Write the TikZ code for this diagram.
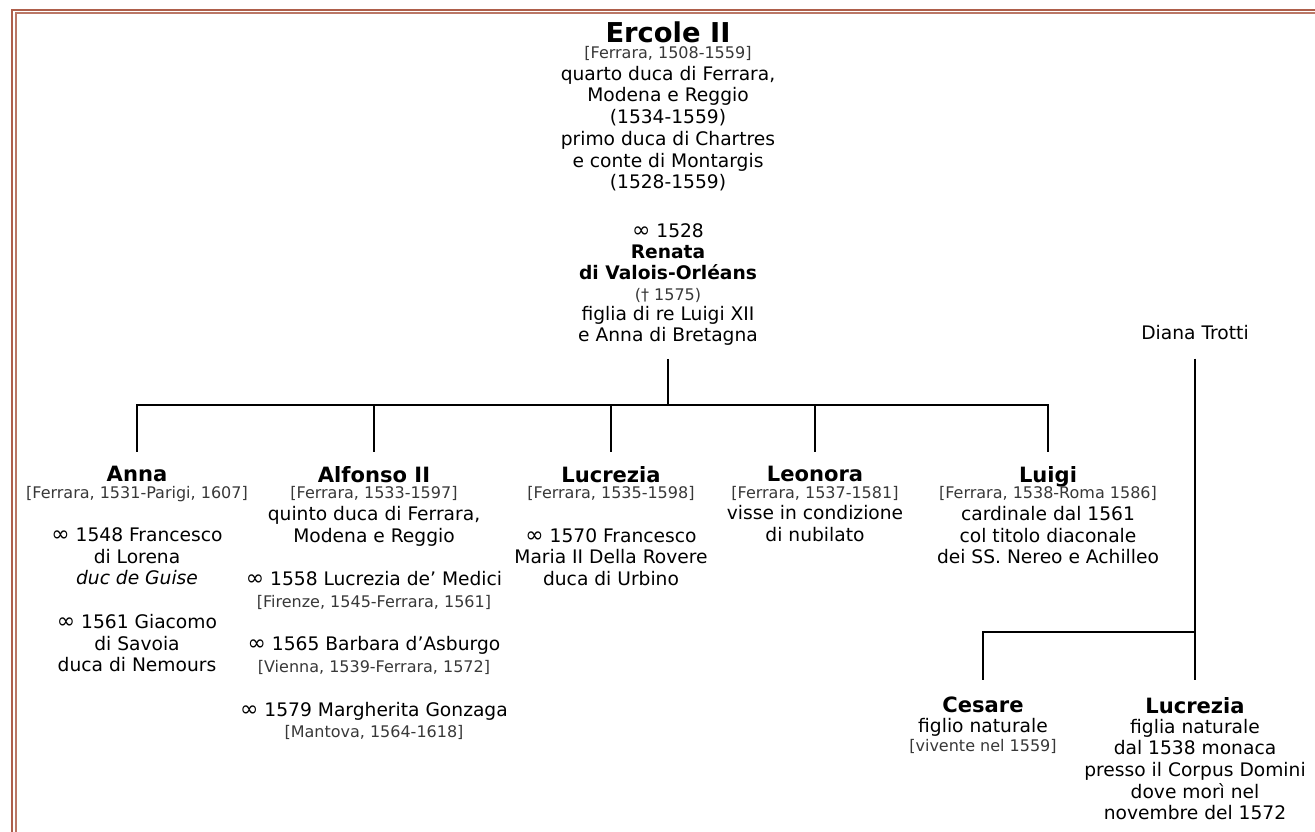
\documentclass[tikz,border=0pt]{standalone}
\usepackage{fontspec}
\setmainfont{DejaVu Sans}
\definecolor{framered}{HTML}{AE5F4B}
\newcommand\pname[1]{{\fontsize{15.8}{0}\selectfont\bfseries #1}}
\newcommand\datetxt[1]{{\fontsize{12}{0}\selectfont\color{black!78}#1}}
\newcommand\marr{{\fontsize{16.5}{0}\selectfont ∞}}
\begin{document}
\begin{tikzpicture}[x=0.75pt, y=-0.75pt,
    person/.style={anchor=north, align=center, inner sep=0pt, text=black,
      font=\fontsize{14}{16.3}\selectfont},
    line/.style={line width=2pt}]
  \useasboundingbox (0,0) rectangle (1315,832);
  % frame
  \draw[framered, line width=1.5pt] (12,832) |- (1315,9.8);
  \draw[framered!85, line width=1.5pt] (15.6,832) |- (1315,13.3);

  % parents
  \node[person] (ercole) at (668,21) {{\fontsize{20.5}{0}\selectfont\bfseries Ercole II}\\[-4pt]
    \datetxt{[Ferrara, 1508-1559]}\\
    quarto duca di Ferrara,\\ Modena e Reggio\\ (1534-1559)\\
    primo duca di Chartres\\ e conte di Montargis\\ (1528-1559)};
  \node[person, font=\fontsize{14}{15.6}\selectfont] (renata) at (668,223.5) {\marr{} 1528\\
    \textbf{Renata}\\ \textbf{di Valois-Orléans}\\ \datetxt{(† 1575)}\\
    figlia di re Luigi XII\\ e Anna di Bretagna};
  \node[person] (diana) at (1195,325) {Diana Trotti};

  % children
  \node[person] (anna) at (137,466) {\pname{Anna}\\[-4pt]
    \datetxt{[Ferrara, 1531-Parigi, 1607]}\\[16.3pt]
    \marr{} 1548 Francesco\\ di Lorena\\ \textit{duc de Guise}\\[16.3pt]
    \marr{} 1561 Giacomo\\ di Savoia\\ duca di Nemours};
  \node[person] (alfonso) at (374,466) {\pname{Alfonso II}\\[-4pt]
    \datetxt{[Ferrara, 1533-1597]}\\
    quinto duca di Ferrara,\\ Modena e Reggio\\[16.3pt]
    \marr{} 1558 Lucrezia de’ Medici\\ \datetxt{[Firenze, 1545-Ferrara, 1561]}\\[16.3pt]
    \marr{} 1565 Barbara d’Asburgo\\ \datetxt{[Vienna, 1539-Ferrara, 1572]}\\[16.3pt]
    \marr{} 1579 Margherita Gonzaga\\ \datetxt{[Mantova, 1564-1618]}};
  \node[person] (lucrezia) at (611,466) {\pname{Lucrezia}\\[-4pt]
    \datetxt{[Ferrara, 1535-1598]}\\[16.3pt]
    \marr{} 1570 Francesco\\ Maria II Della Rovere\\ duca di Urbino};
  \node[person] (leonora) at (815,466) {\pname{Leonora}\\[-4pt]
    \datetxt{[Ferrara, 1537-1581]}\\
    visse in condizione\\ di nubilato};
  \node[person] (luigi) at (1048,466) {\pname{Luigi}\\[-4pt]
    \datetxt{[Ferrara, 1538-Roma 1586]}\\
    cardinale dal 1561\\ col titolo diaconale\\ dei SS. Nereo e Achilleo};
  \node[person] (cesare) at (983,697) {\pname{Cesare}\\[-1.5pt]
    figlio naturale\\[-2pt] \datetxt{[vivente nel 1559]}};
  \node[person] (lucrezian) at (1195,697) {\pname{Lucrezia}\\[-1.5pt]
    figlia naturale\\ dal 1538 monaca\\ presso il Corpus Domini\\
    dove morì nel\\ novembre del 1572};

  % lines
  \coordinate (fam) at (668,405);
  \coordinate (nat) at (1195,632);
  \draw[line, shorten <=9.75pt] (renata) -- (fam);
  \foreach \c in {anna,alfonso,lucrezia,leonora,luigi}
    \draw[line, shorten >=10.5pt] (fam) -| (\c);
  \draw[line, shorten <=14pt, shorten >=12.75pt] (diana) -- (lucrezian);
  \draw[line, shorten >=12.75pt] (nat) -| (cesare);
\end{tikzpicture}
\end{document}
